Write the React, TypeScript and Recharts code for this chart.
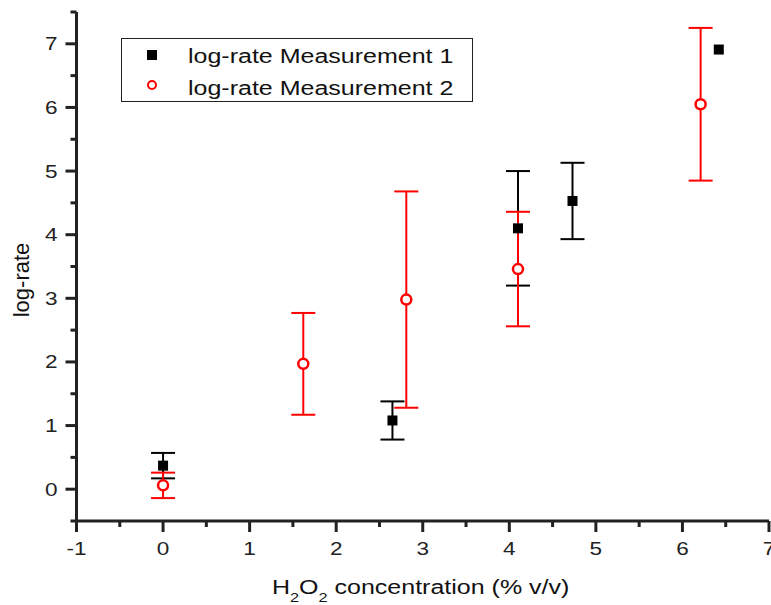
import { ScatterChart, Scatter, XAxis, YAxis, ErrorBar, Legend } from "recharts";

const m1X = [0, 2.65, 4.1, 4.73, 6.42];
const m1Y = [0.37, 1.08, 4.1, 4.53, 6.91];
const m1Err = [0.2, 0.3, 0.9, 0.6, null];

const m2X = [0, 1.62, 2.81, 4.1, 6.21];
const m2Y = [0.06, 1.97, 2.98, 3.46, 6.05];
const m2Err = [0.2, 0.8, 1.7, 0.9, 1.2];

const xTicks = [-1, -0.5, 0, 0.5, 1, 1.5, 2, 2.5, 3, 3.5, 4, 4.5, 5, 5.5, 6, 6.5, 7];
const yTicks = [-0.5, 0, 0.5, 1, 1.5, 2, 2.5, 3, 3.5, 4, 4.5, 5, 5.5, 6, 6.5, 7, 7.5];

const s1 = m1X.map((x, i) => ({ x, y: m1Y[i], err: m1Err[i] }));
const s2 = m2X.map((x, i) => ({ x, y: m2Y[i], err: m2Err[i] }));

const FONT = "'Liberation Sans', Arial, sans-serif";
const AXIS = "#222";
// the reference's text is a bit wider than it is tall
const STRETCH = 1.22;

const XTick = (props: any) => {
  const { x, y, payload } = props;
  const major = Number.isInteger(payload.value);
  return (
    <g>
      <line x1={x} x2={x} y1={y} y2={y + (major ? 11 : 6)} stroke={AXIS} strokeWidth={3} />
      {major && (
        <text
          transform={`translate(${x},${y + 34}) scale(${STRETCH},1)`}
          textAnchor="middle"
          fontSize={18.5}
          fill="#222"
          fontFamily={FONT}
        >
          {payload.value}
        </text>
      )}
    </g>
  );
};

const YTick = (props: any) => {
  const { x, y, payload } = props;
  const major = Number.isInteger(payload.value);
  return (
    <g>
      <line x1={x} x2={x - (major ? 11 : 6)} y1={y} y2={y} stroke={AXIS} strokeWidth={3} />
      {major && (
        <text
          transform={`translate(${x - 19},${y + 6.5}) scale(${STRETCH},1)`}
          textAnchor="end"
          fontSize={18.5}
          fill="#222"
          fontFamily={FONT}
        >
          {payload.value}
        </text>
      )}
    </g>
  );
};

const Square = (props: any) => (
  <rect x={props.cx - 5} y={props.cy - 5} width={10} height={10} fill="#000" />
);
const Circle = (props: any) => (
  <circle cx={props.cx} cy={props.cy} r={5} fill="#fff" stroke="#ff0000" strokeWidth={2.5} />
);

const legendText = {
  position: "absolute" as const,
  left: 66,
  whiteSpace: "nowrap" as const,
  lineHeight: "20px",
  transform: "scaleX(1.25)",
  transformOrigin: "left center",
};

const LegendBox = () => (
  <div
    style={{
      position: "absolute",
      left: 121,
      top: 37.5,
      width: 352,
      height: 64,
      border: "1.5px solid #222",
      background: "#fff",
      fontFamily: FONT,
      fontSize: 20,
      color: "#111",
      boxSizing: "border-box",
    }}
  >
    <div style={{ position: "absolute", left: 24.5, top: 11.5, width: 10, height: 10, background: "#000" }} />
    <div style={{ ...legendText, top: 7.5 }}>log-rate Measurement 1</div>
    <div
      style={{
        position: "absolute",
        left: 24.5,
        top: 41.5,
        width: 10,
        height: 10,
        borderRadius: "50%",
        border: "2.5px solid #ff0000",
        boxSizing: "border-box",
      }}
    />
    <div style={{ ...legendText, top: 39.5 }}>log-rate Measurement 2</div>
  </div>
);

export default function App() {
  return (
    <div style={{ position: "absolute", left: 0, top: 0, width: 771, height: 605, background: "#fff", overflow: "hidden" }}>
      <ScatterChart width={771} height={605} margin={{ top: 12, right: 2, bottom: 34, left: 0 }}>
        <XAxis
          xAxisId="b"
          type="number"
          dataKey="x"
          domain={[-1, 7]}
          ticks={xTicks}
          interval={0}
          height={50}
          tickSize={0}
          tickMargin={0}
          tickLine={false}
          tick={<XTick />}
          axisLine={{ stroke: AXIS, strokeWidth: 3 }}
          allowDataOverflow
        />
        <XAxis
          xAxisId="t"
          orientation="top"
          type="number"
          dataKey="x"
          domain={[-1, 7]}
          height={0}
          tick={false}
          tickLine={false}
          axisLine={{ stroke: AXIS, strokeWidth: 3 }}
        />
        <YAxis
          yAxisId="l"
          type="number"
          dataKey="y"
          domain={[-0.5, 7.5]}
          ticks={yTicks}
          interval={0}
          width={76.5}
          tickSize={0}
          tickMargin={0}
          tickLine={false}
          tick={<YTick />}
          axisLine={{ stroke: AXIS, strokeWidth: 3 }}
          allowDataOverflow
        />
        <YAxis
          yAxisId="r"
          orientation="right"
          type="number"
          dataKey="y"
          domain={[-0.5, 7.5]}
          width={0}
          tick={false}
          tickLine={false}
          axisLine={{ stroke: AXIS, strokeWidth: 2 }}
        />
        <Legend content={() => null} />
        <Scatter
          name="log-rate Measurement 1"
          data={s1}
          xAxisId="b"
          yAxisId="l"
          shape={<Square />}
          isAnimationActive={false}
        >
          <ErrorBar dataKey="err" direction="y" width={12} stroke="#000" strokeWidth={2} isAnimationActive={false} />
        </Scatter>
        <Scatter
          name="log-rate Measurement 2"
          data={s2}
          xAxisId="b"
          yAxisId="l"
          shape={<Circle />}
          isAnimationActive={false}
        >
          <ErrorBar dataKey="err" direction="y" width={12} stroke="#ff0000" strokeWidth={2} isAnimationActive={false} />
        </Scatter>
      </ScatterChart>
      <LegendBox />
      <div
        style={{
          position: "absolute",
          left: 22,
          top: 280,
          transform: "translate(-50%, -50%) rotate(-90deg)",
          fontFamily: FONT,
          fontSize: 22,
          lineHeight: "22px",
          color: "#111",
          whiteSpace: "nowrap",
        }}
      >
        log-rate
      </div>
      <div
        style={{
          position: "absolute",
          left: 272,
          top: 577,
          transform: "scaleX(1.25)",
          transformOrigin: "left center",
          fontFamily: FONT,
          fontSize: 20,
          lineHeight: "20px",
          color: "#111",
          whiteSpace: "nowrap",
        }}
      >
        H<span style={{ fontSize: 13, position: "relative", top: 8 }}>2</span>O
        <span style={{ fontSize: 13, position: "relative", top: 8 }}>2</span> concentration (% v/v)
      </div>
    </div>
  );
}
